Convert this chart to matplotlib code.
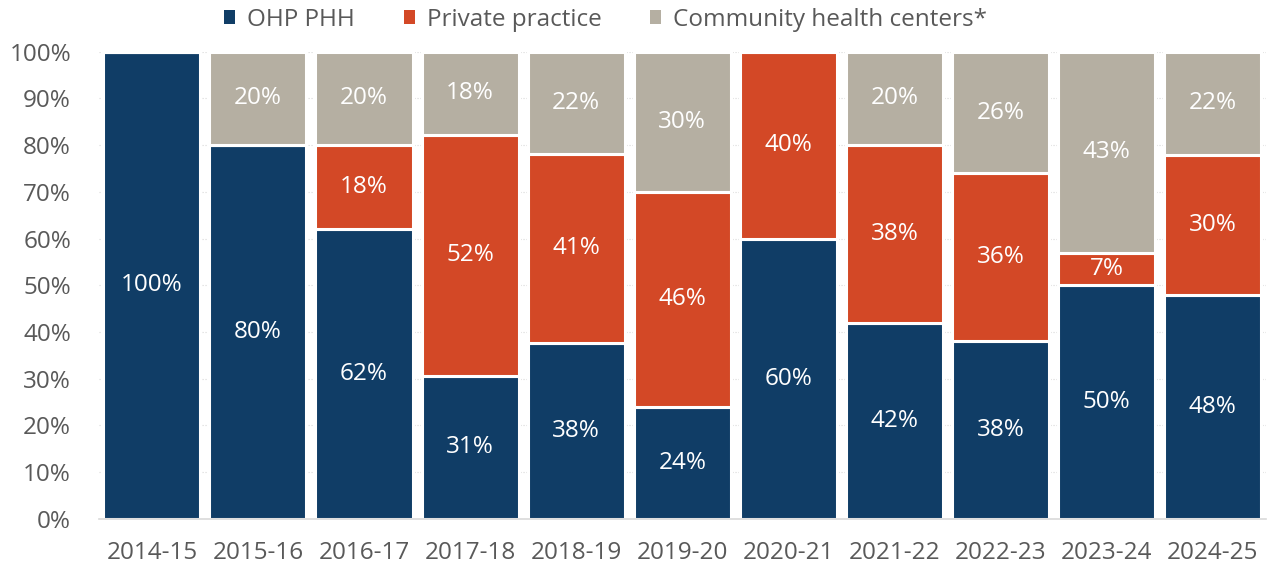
import numpy as np
import matplotlib.pyplot as plt

years = ['2014-15', '2015-16', '2016-17', '2017-18', '2018-19', '2019-20',
         '2020-21', '2021-22', '2022-23', '2023-24', '2024-25']
ohp_phh = [100, 80, 62, 31, 38, 24, 60, 42, 38, 50, 48]
private = [0, 0, 18, 52, 41, 46, 40, 38, 36, 7, 30]
community = [0, 20, 20, 18, 22, 30, 0, 20, 26, 43, 22]

series_names = ['OHP PHH', 'Private practice', 'Community health centers*']
colors = ['#103D66', '#D34826', '#B5AFA2']

plt.rcParams['font.family'] = ['Open Sans', 'DejaVu Sans']

fig = plt.figure(figsize=(12.67, 5.69), dpi=100)
ax = fig.add_axes([0.078, 0.088, 0.921, 0.821])

data = np.array([ohp_phh, private, community], dtype=float)
# labels show rounded shares; scale each column so the stack reaches 100%
shares = data / data.sum(axis=0) * 100
x = np.arange(len(years))
bottom = np.zeros(len(years))
for i in range(3):
    bars = ax.bar(x, shares[i], 0.915, bottom=bottom, color=colors[i],
                  edgecolor='white', linewidth=2.2, label=series_names[i], zorder=2)
    for j, b in enumerate(bars):
        if data[i, j] > 0:
            ax.text(b.get_x() + b.get_width() / 2, bottom[j] + shares[i, j] / 2,
                    f'{int(data[i, j])}%', ha='center', va='center',
                    color='white', fontsize=17.5)
    bottom += shares[i]

ax.set_xlim(-0.5, len(years) - 0.5)
ax.set_ylim(0, 100)
ax.set_yticks(np.arange(0, 101, 10))
ax.set_yticklabels([f'{v}%' for v in range(0, 101, 10)])
ax.set_xticks(x)
ax.set_xticklabels(years)
ax.tick_params(axis='both', length=0, labelsize=17.5, labelcolor='#595959')
ax.tick_params(axis='x', pad=16)
ax.tick_params(axis='y', pad=20)
ax.yaxis.grid(True, color='#d9d9d9', linestyle=':', linewidth=0.8, zorder=0)
ax.set_axisbelow(True)
for s in ['top', 'right', 'left']:
    ax.spines[s].set_visible(False)
ax.spines['bottom'].set_color('#d9d9d9')
ax.spines['bottom'].set_linewidth(1.2)

leg = fig.legend(loc='upper center', bbox_to_anchor=(0.478, 1.025), ncol=3,
                 frameon=False, fontsize=17.5, handlelength=0.45, handleheight=0.45,
                 handletextpad=0.5, columnspacing=2.0)
for t in leg.get_texts():
    t.set_color('#595959')
for h in leg.legend_handles:
    h.set_linewidth(0)

fig.savefig('out.png', dpi=100)
